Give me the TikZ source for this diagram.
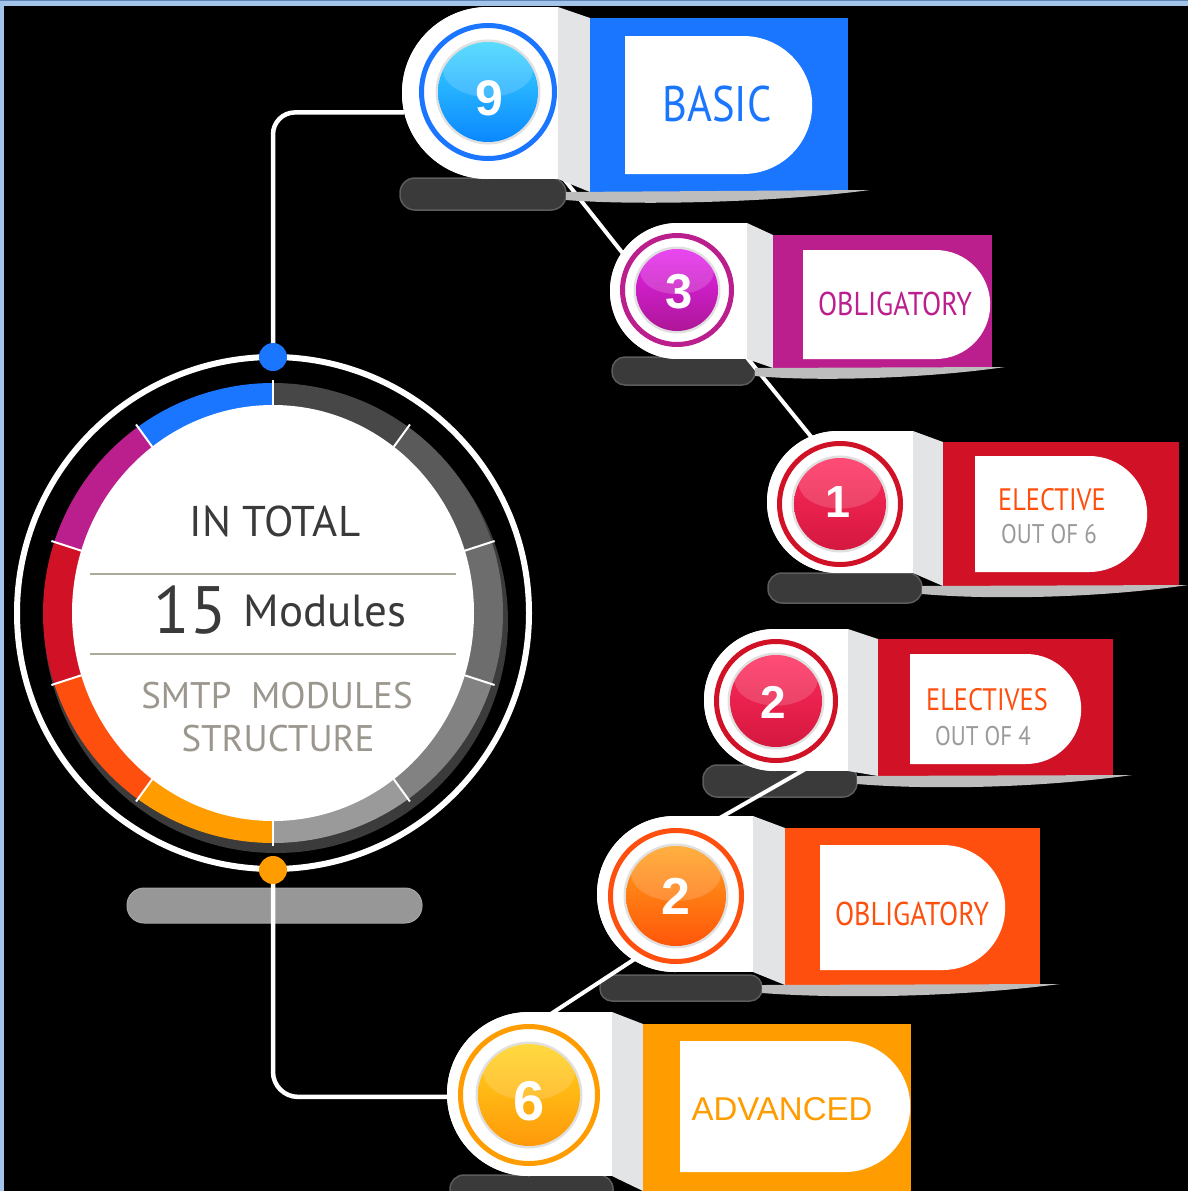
\documentclass[tikz,border=0pt]{standalone}
\usepackage{fontspec}
\setmainfont{PT Sans}
\newfontfamily\labfont[FakeStretch=0.85]{PT Sans}
\newfontfamily\numfont{Liberation Sans}
\newfontfamily\arialfont{Liberation Sans}
\usetikzlibrary{shapes.misc}

\definecolor{cblue}{HTML}{1A75FF}
\definecolor{cpurple}{HTML}{BB1F8E}
\definecolor{cred}{HTML}{D11226}
\definecolor{cored}{HTML}{FF4F0F}
\definecolor{corange}{HTML}{FF9C00}
\definecolor{foldc}{HTML}{E3E4E6}
\definecolor{pillc}{HTML}{3A3A3A}
\definecolor{pilledge}{HTML}{5C5C5C}
\definecolor{hubpill}{HTML}{979797}
\definecolor{txtdark}{HTML}{3A3A3A}
\definecolor{txtgray}{HTML}{9B978E}
\definecolor{divline}{HTML}{ACA99D}
\definecolor{outgray}{HTML}{9A9A9A}
\definecolor{framec}{HTML}{A3C4E8}
\definecolor{frameedge}{HTML}{5E86B8}
\definecolor{shadowc}{HTML}{BDBDBD}
\definecolor{hubshadow}{HTML}{3B3B3B}
\definecolor{gA}{HTML}{474747}
\definecolor{gB}{HTML}{5A5A5A}
\definecolor{gC}{HTML}{6D6D6D}
\definecolor{gD}{HTML}{828282}
\definecolor{gE}{HTML}{9A9A9A}
\definecolor{bNt}{HTML}{3DD5FF}
\definecolor{bNb}{HTML}{0A88FF}
\definecolor{bPt}{HTML}{E524EE}
\definecolor{bPb}{HTML}{AE1697}
\definecolor{bRt}{HTML}{FF2A5C}
\definecolor{bRb}{HTML}{D4183F}
\definecolor{bOt}{HTML}{FFA11C}
\definecolor{bOb}{HTML}{FF560A}
\definecolor{bYt}{HTML}{FFD31C}
\definecolor{bYb}{HTML}{FF990A}

% #1 cx, #2 cy, #3 ring radius, #4 ball radius, #5 ring colour, #6 top, #7 bottom
\newcommand\ballbadge[7]{%
  \draw[#5, line width=5pt] (#1,#2) circle[radius=#3pt-2.5pt];
  \fill[black!12] (#1,#2) circle[radius=#4pt+2.5pt];
  \shade[top color=#6, bottom color=#7] (#1,#2) circle[radius=#4pt];
  \begin{scope}
    \clip (#1,#2) circle[radius=#4pt];
    \fill[white, opacity=.16] (#1,#2-0.45*#4) ellipse[x radius=0.9*#4pt, y radius=0.55*#4pt];
  \end{scope}
}

\begin{document}
\begin{tikzpicture}[x=1pt, y=-1pt,
  conn/.style={draw=white, line width=4.5pt},
  backing/.style={circle, fill=white, inner sep=0pt},
  tagrect/.style={rectangle, inner sep=0pt, anchor=north west},
  dlab/.style={rounded rectangle, rounded rectangle west arc=none, fill=white, inner sep=0pt, anchor=west},
  labtext/.style={anchor=base, inner sep=0pt},
  num/.style={anchor=base, inner sep=0pt, text=white},
  badgepill/.style={fill=pillc, draw=pilledge, line width=1.5pt},
  dot/.style={circle, inner sep=0pt, minimum size=28pt}]

\useasboundingbox (0,0) rectangle (1188,1191);
\clip (0,0) rectangle (1188,1191);
\fill[black] (0,0) rectangle (1188,1191);

% ---------- hub ----------
\node[circle, draw=white, line width=6pt, minimum size=512pt, inner sep=0pt] (hub) at (273,613) {};
\begin{scope}[shift={(273,613)}, x=1pt, y=1pt]
  \fill[hubshadow] (3,-8) circle[radius=232pt];
  \foreach \a/\b/\c in {90/126/cblue, 126/162/cpurple, 162/198/cred, 198/234/cored, 234/270/corange,
                        90/54/gA, 54/18/gB, 18/-18/gC, -18/-54/gD, -54/-90/gE}
    \fill[\c] (0,0) -- (\a:230) arc[start angle=\a, end angle=\b, radius=230pt] -- cycle;
  \fill[white] (0,0) ellipse[x radius=201pt, y radius=208pt];
  \foreach \a in {90,126,162,198,234,270,54,18,-18,-54}
    \draw[white, line width=2pt] (\a:198) -- (\a:233);
\end{scope}
\fill[hubpill, draw=gray!70, line width=1pt, rounded corners=17pt] (127,888) rectangle (422,923);

\node[labtext, text=txtdark, font=\fontsize{43}{50}\selectfont] (intotal) at (275,536) {IN TOTAL};
\draw[divline, line width=2pt] (90,574) -- (456,574);
\draw[divline, line width=2pt] (90,654) -- (456,654);
\node[labtext, text=txtdark, font=\fontsize{67}{70}\selectfont] (fifteen) at (190,633) {15};
\node[labtext, text=txtdark, font=\fontsize{45}{50}\selectfont] (modules) at (325,626) {Modules};
\node[labtext, text=txtgray, font=\fontsize{37}{40}\selectfont] (smtp) at (277,708) {SMTP\ \ MODULES};
\node[labtext, text=txtgray, font=\fontsize{37}{40}\selectfont] (struct) at (278,751) {STRUCTURE};

% ---------- badge shadows (pills) ----------
\fill[badgepill, rounded corners=15pt] (400,178) rectangle (566,210);
\fill[badgepill, rounded corners=13pt] (612,357) rectangle (755,385);
\fill[badgepill, rounded corners=14pt] (768,573) rectangle (922,603);
\fill[badgepill, rounded corners=14pt] (703,765) rectangle (857,797);
\fill[badgepill, rounded corners=12pt] (600,975) rectangle (762,1001);
\fill[badgepill, rounded corners=14pt] (450,1175) rectangle (613,1205);

% ---------- badge backing circles (named) ----------
\path (488,93) node[backing, minimum size=172pt] (b9) {};
\path (678,291) node[backing, minimum size=136pt] (b3) {};
\path (838,502) node[backing, minimum size=142pt] (b1) {};
\path (775,700) node[backing, minimum size=142pt] (b2) {};
\path (675,894) node[backing, minimum size=156pt] (b2o) {};
\path (529,1094) node[backing, minimum size=164pt] (b6) {};

% ---------- connectors ----------
\node[dot] (dtop) at (273,357) {};
\node[dot] (dbot) at (273,870) {};
\draw[conn, rounded corners=22pt] (dtop.center) |- (b9.193);
\draw[conn, rounded corners=25pt] (dbot.center) |- (b6.182);

\coordinate (k93) at (560,174);
\coordinate (k39) at (632,265);
\coordinate (k31) at (740,349);
\coordinate (k13) at (830,460);
\coordinate (k22a) at (830,755);
\coordinate (k22b) at (690,835);
\coordinate (k26a) at (650,949);
\coordinate (k26b) at (540,1021);
\draw[conn, line width=4pt] (k93) -- (k39);
\draw[conn, line width=4pt] (k31) -- (k13);
\draw[conn, line width=4pt] (k22a) -- (k22b);
\draw[conn, line width=4pt] (k26a) -- (k26b);

\node[dot, fill=cblue] at (dtop) {};
\node[dot, fill=corange] at (dbot) {};

% ---------- badge 9 : BASIC ----------
\path (488,93) node[backing, minimum size=172pt] {};
\fill[white] (488,7) rectangle (558,179);
\fill[foldc] (558,7) -- (590,18) -- (590,192) -- (558,179) -- cycle;
\node[tagrect, fill=cblue, minimum width=258pt, minimum height=174pt] (r9) at (590,18) {};
\fill[shadowc] (566,192) -- (870,190) .. controls (780,202) and (640,206) .. (566,200) -- cycle;
\node[dlab, minimum width=187pt, minimum height=138pt] (d9) at (625,105) {};
\node[labtext, text=cblue, font=\labfont\fontsize{50}{56}\selectfont] (t9) at (717,121) {BASIC};
\ballbadge{488}{92}{69}{50}{cblue}{bNt}{bNb}
\node[num, font=\numfont\bfseries\fontsize{50}{56}\selectfont] (n9) at (489,115) {9};

% ---------- badge 3 : OBLIGATORY ----------
\path (678,291) node[backing, minimum size=136pt] {};
\fill[white] (678,223) rectangle (747,359);
\fill[foldc] (747,223) -- (773,235) -- (773,368) -- (747,359) -- cycle;
\node[tagrect, fill=cpurple, minimum width=219pt, minimum height=133pt] (r3) at (773,235) {};
\fill[shadowc] (755,368) -- (1005,367) .. controls (930,378) and (820,382) .. (755,376) -- cycle;
\node[dlab, minimum width=187pt, minimum height=109pt] (d3) at (803,304.5) {};
\node[labtext, text=cpurple, font=\labfont\fontsize{33}{38}\selectfont] (t3) at (895,315) {OBLIGATORY};
\ballbadge{677}{290}{57}{41}{cpurple}{bPt}{bPb}
\node[num, font=\numfont\bfseries\fontsize{49}{54}\selectfont] (n3) at (679,308) {3};

% ---------- badge 1 : ELECTIVE ----------
\path (838,502) node[backing, minimum size=142pt] {};
\fill[white] (838,431) rectangle (913,573);
\fill[foldc] (913,431) -- (943,442) -- (943,586) -- (913,573) -- cycle;
\node[tagrect, fill=cred, minimum width=236pt, minimum height=144pt] (r1) at (943,442) {};
\fill[shadowc] (922,586) -- (1188,585) .. controls (1100,598) and (990,600) .. (922,594) -- cycle;
\node[dlab, minimum width=172pt, minimum height=116pt] (d1) at (975,514) {};
\node[labtext, text=cored, font=\labfont\fontsize{31}{36}\selectfont] (t1) at (1052,510) {ELECTIVE};
\node[labtext, text=outgray, font=\labfont\fontsize{27}{32}\selectfont] (o1) at (1049,543) {OUT OF 6};
\ballbadge{840}{504}{63}{46}{cred}{bRt}{bRb}
\node[num, font=\numfont\bfseries\fontsize{45}{50}\selectfont] (n1) at (838,517) {1};

% ---------- badge 2 : ELECTIVES ----------
\path (775,700) node[backing, minimum size=142pt] {};
\fill[white] (775,629) rectangle (848,771);
\fill[foldc] (848,629) -- (878,639) -- (878,776) -- (848,771) -- cycle;
\node[tagrect, fill=cred, minimum width=235pt, minimum height=137pt] (r2) at (878,639) {};
\fill[shadowc] (857,776) -- (1132,775) .. controls (1040,788) and (930,790) .. (857,784) -- cycle;
\node[dlab, minimum width=171pt, minimum height=110pt] (d2) at (910,709) {};
\node[labtext, text=cored, font=\labfont\fontsize{31}{36}\selectfont] (t2) at (987,710) {ELECTIVES};
\node[labtext, text=outgray, font=\labfont\fontsize{27}{32}\selectfont] (o2) at (983,745) {OUT OF 4};
\ballbadge{776}{701}{62}{46}{cred}{bRt}{bRb}
\node[num, font=\numfont\bfseries\fontsize{46}{50}\selectfont] (n2) at (773,718) {2};

% ---------- badge 2 : OBLIGATORY (orange) ----------
\path (675,894) node[backing, minimum size=156pt] {};
\fill[white] (675,816) rectangle (753,972);
\fill[foldc] (753,816) -- (785,828) -- (785,985) -- (753,972) -- cycle;
\node[tagrect, fill=cored, minimum width=255pt, minimum height=157pt] (r2o) at (785,828) {};
\fill[shadowc] (762,985) -- (1060,984) .. controls (960,997) and (840,999) .. (762,993) -- cycle;
\node[dlab, minimum width=185pt, minimum height=125pt] (d2o) at (820,907.5) {};
\node[labtext, text=cored, font=\labfont\fontsize{33}{38}\selectfont] (t2o) at (912,925) {OBLIGATORY};
\ballbadge{676}{896}{68}{50}{cored}{bOt}{bOb}
\node[num, font=\numfont\bfseries\fontsize{52}{56}\selectfont] (n2o) at (676,914) {2};

% ---------- badge 6 : ADVANCED ----------
\path (529,1094) node[backing, minimum size=164pt] {};
\fill[white] (529,1012) rectangle (612,1176);
\fill[foldc] (612,1012) -- (643,1024) -- (643,1191) -- (612,1176) -- cycle;
\node[tagrect, fill=corange, minimum width=268pt, minimum height=170pt] (r6) at (643,1024) {};
\node[dlab, minimum width=230pt, minimum height=131pt] (d6) at (680,1106.5) {};
\node[labtext, text=corange, font=\arialfont\fontsize{33}{38}\selectfont] (t6) at (782,1120) {ADVANCED};
\ballbadge{529}{1095}{71}{51}{corange}{bYt}{bYb}
\node[num, font=\numfont\bfseries\fontsize{56}{60}\selectfont] (n6) at (529,1120) {6};

% ---------- frame ----------
\fill[framec] (0,0) rectangle (1188,6);
\fill[framec] (0,0) rectangle (4,1191);
\fill[frameedge] (0,0) rectangle (1188,1.3);
\end{tikzpicture}
\end{document}
